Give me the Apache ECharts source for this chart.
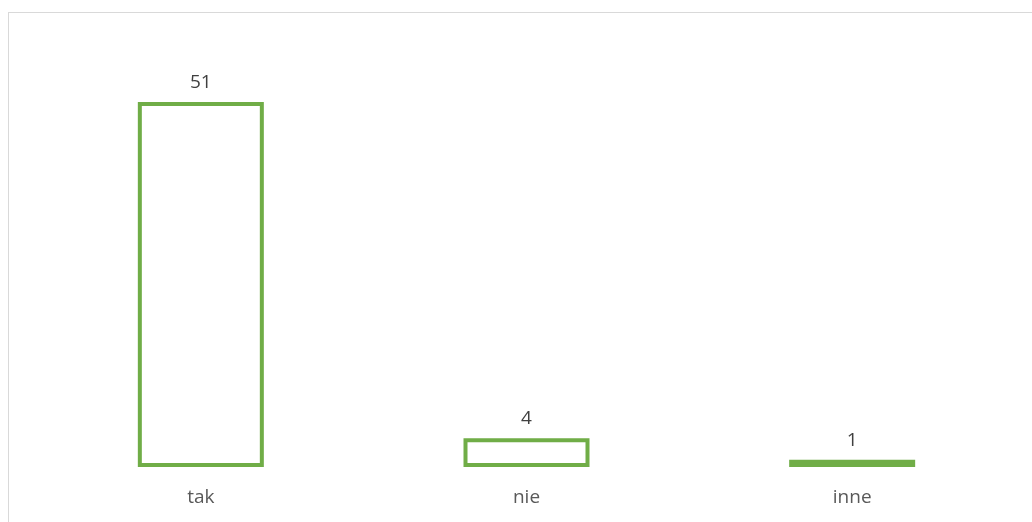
<!DOCTYPE html>
<html>
<head>
<meta charset="utf-8">
<script src="https://cdn.jsdelivr.net/npm/echarts@6/dist/echarts.min.js"></script>
<style>
  html, body { margin: 0; padding: 0; background: #fff; overflow: hidden; }
  #frame { position: absolute; left: 8px; top: 12px; width: 1040px; height: 540px; border: 1px solid #d9d9d9; box-sizing: border-box; }
  #chart { position: absolute; left: 0; top: 0; width: 1032px; height: 522px; }
</style>
</head>
<body>
<div id="frame"></div>
<div id="chart"></div>
<script>
const categories = ['tak', 'nie', 'inne']
const values = [51, 4, 1]

const chart = echarts.init(document.getElementById('chart'))
chart.setOption({
  animation: false,
  grid: { left: 38, right: 17, top: 102, bottom: 55 },
  xAxis: {
    type: 'category',
    data: categories,
    axisLine: { show: false },
    axisTick: { show: false },
    axisLabel: { color: '#595959', fontSize: 19, fontFamily: 'Open Sans', margin: 21 }
  },
  yAxis: {
    type: 'value',
    min: 0,
    max: 51,
    show: false,
    splitLine: { show: false }
  },
  series: [{
    type: 'bar',
    data: values,
    barWidth: 126,
    itemStyle: { color: '#ffffff', borderColor: '#70ad47', borderWidth: 4 },
    label: { show: true, position: 'top', distance: 10, color: '#404040', fontSize: 19, fontFamily: 'Open Sans' }
  }]
})
</script>
</body>
</html>
